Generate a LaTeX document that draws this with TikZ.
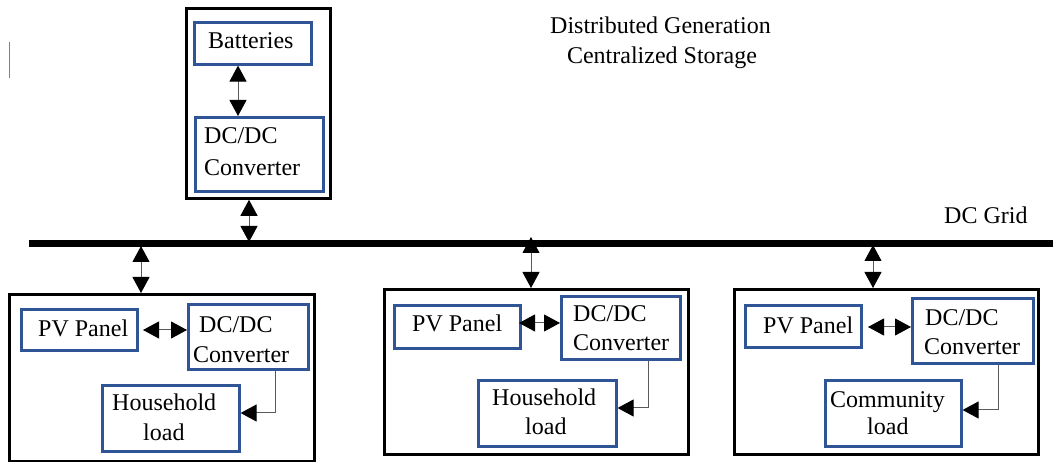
\documentclass[tikz,border=0pt]{standalone}
\usepackage{fontspec}
\setmainfont{Liberation Serif}
\newfontfamily\tnr{Liberation Serif}
\usetikzlibrary{arrows.meta}
\definecolor{boxblue}{RGB}{47,85,151}
\definecolor{lnk}{RGB}{90,90,90}
\begin{document}
\begin{tikzpicture}[x=1pt,y=-1pt,
  outerbox/.style={draw=black,line width=2.8pt,inner sep=0pt,anchor=north west},
  bluebox/.style={draw=boxblue,line width=2.6pt,inner sep=0pt,anchor=north west},
  txt/.style={anchor=base west,inner sep=0pt,font=\tnr\fontsize{24}{29}\selectfont},
  ttl/.style={anchor=base,inner sep=0pt,font=\tnr\fontsize{24}{29}\selectfont},
  tip/.tip={Triangle[width=17pt,length=16pt,color=black]},
  biconn/.style={draw=lnk,line width=1pt,tip-tip},
  uniconn/.style={draw=lnk,line width=1pt,-tip},
  busline/.style={line width=7pt,draw=black}]
\useasboundingbox (0,0) rectangle (1053,462);

% stray mark
\coordinate (m1) at (9,42); \coordinate (m2) at (9,78);
\draw[gray,line width=1pt] (m1) -- (m2);

% titles
\node[ttl] (t1) at (660.5,34) {Distributed Generation};
\node[ttl] (t2) at (662,64) {Centralized Storage};
\node[txt] (grid) at (944,224) {DC Grid};

% bus
\coordinate (busL) at (29,243.5);
\coordinate (busR) at (1053,243.5);
\draw[busline] (busL) -- (busR);

% storage
\node[outerbox,minimum width=144pt,minimum height=190pt] (stor) at (185,7) {};
\node[bluebox,minimum width=117pt,minimum height=42pt] (bat) at (193,21) {};
\node[bluebox,minimum width=128pt,minimum height=74pt] (scv) at (194,116) {};
\node[txt] (batt) at (208,49) {Batteries};
\node[txt] (scva) at (204,144) {DC/DC};
\node[txt] (scvb) at (204,176) {Converter};

% house 1
\node[outerbox,minimum width=305pt,minimum height=167pt] (h1) at (8,293) {};
\node[bluebox,minimum width=116pt,minimum height=41pt] (pv1) at (20,308) {};
\node[bluebox,minimum width=120pt,minimum height=65pt] (cv1) at (187,303) {};
\node[bluebox,minimum width=137pt,minimum height=66pt] (ld1) at (101,384) {};
\node[txt] (pv1t) at (38,337) {PV Panel};
\node[txt] (cv1a) at (199,333) {DC/DC};
\node[txt] (cv1b) at (193,363) {Converter};
\node[txt] (ld1a) at (112,411) {Household};
\node[txt] (ld1b) at (143,441) {load};

% house 2
\node[outerbox,minimum width=304pt,minimum height=165pt] (h2) at (383,288) {};
\node[bluebox,minimum width=126pt,minimum height=43pt] (pv2) at (393,304) {};
\node[bluebox,minimum width=119pt,minimum height=63pt] (cv2) at (560,295) {};
\node[bluebox,minimum width=138pt,minimum height=66pt] (ld2) at (477,379) {};
\node[txt] (pv2t) at (412,332) {PV Panel};
\node[txt] (cv2a) at (573,322) {DC/DC};
\node[txt] (cv2b) at (573,351) {Converter};
\node[txt] (ld2a) at (492,406) {Household};
\node[txt] (ld2b) at (525,435) {load};

% community
\node[outerbox,minimum width=304pt,minimum height=165pt] (h3) at (733,288) {};
\node[bluebox,minimum width=116pt,minimum height=42pt] (pv3) at (744,304) {};
\node[bluebox,minimum width=121pt,minimum height=65pt] (cv3) at (911,297) {};
\node[bluebox,minimum width=136pt,minimum height=66pt] (ld3) at (824,379) {};
\node[txt] (pv3t) at (763,334) {PV Panel};
\node[txt] (cv3a) at (925,326) {DC/DC};
\node[txt] (cv3b) at (924,355) {Converter};
\node[txt] (ld3a) at (830,408) {Community};
\node[txt] (ld3b) at (867,435) {load};

% connector x/y guides
\coordinate (xa) at (238,0);
\coordinate (xb) at (249,0);
\coordinate (xb2) at (249,242);
\coordinate (x1) at (141,246);
\coordinate (x2) at (531,237);
\coordinate (x3) at (873,245);
\coordinate (p1) at (143,330);
\coordinate (p2) at (519,323);
\coordinate (p3) at (868,327);
\coordinate (c1) at (275,0);
\coordinate (c2) at (648,0);
\coordinate (c3) at (998,0);
\coordinate (y1) at (0,413);
\coordinate (y2) at (0,408);
\coordinate (y3) at (0,410);

% storage connectors
\draw[biconn] (bat.south -| xa) -- (scv.north -| xa);
\draw[biconn] (stor.south -| xb) -- (xb2);

% bus to units
\draw[biconn] (x1) -- (h1.north -| x1);
\draw[biconn] (x2) -- (h2.north -| x2);
\draw[biconn] (x3) -- (h3.north -| x3);

% PV to converter
\draw[biconn] (p1) -- (cv1.west |- p1);
\draw[biconn] (p2) -- (cv2.west |- p2);
\draw[biconn] (p3) -- (cv3.west |- p3);

% converter to load
\draw[uniconn] (cv1.south -| c1) |- (ld1.east |- y1);
\draw[uniconn] (cv2.south -| c2) |- (ld2.east |- y2);
\draw[uniconn] (cv3.south -| c3) |- (ld3.east |- y3);
\end{tikzpicture}
\end{document}
